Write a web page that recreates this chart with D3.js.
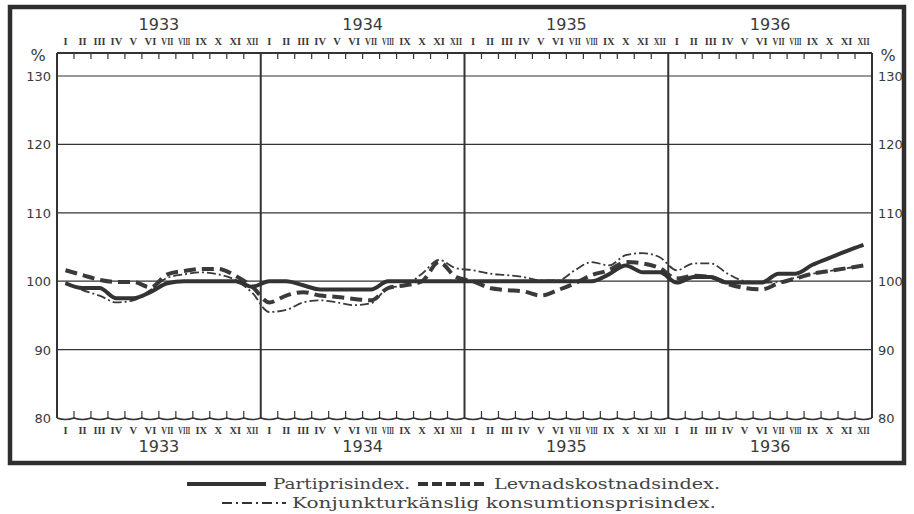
<!DOCTYPE html>
<html>
<head>
<meta charset="utf-8">
<script src="https://cdn.jsdelivr.net/npm/d3@7"></script>
<style>
  body { margin: 0; background: #fff; }
  svg { display: block; }
</style>
</head>
<body>
<div id="chart"></div>
<script>
// data, one value per month 1933-1936
const years = ['1933', '1934', '1935', '1936'];
const months = ['I','II','III','IV','V','VI','VII','VIII','IX','X','XI','XII'];
const yTicks = [80, 90, 100, 110, 120, 130];

const partipris = [
  99.7, 99.0, 99.0, 97.5, 97.5, 98.4, 99.7, 100, 100, 100, 100, 99.2,
  100, 100, 99.4, 98.8, 98.8, 98.8, 98.8, 100, 100, 100, 100, 100,
  100, 100, 100, 100, 100, 100, 100, 100, 101.0, 102.3, 101.3, 101.3,
  99.8, 100.6, 100.6, 99.8, 99.8, 99.8, 101.1, 101.1, 102.4, 103.4, 104.4, 105.3
];
const levnad = [
  101.6, 100.9, 100.2, 99.9, 99.9, 99.1, 101.0, 101.5, 101.8, 101.8, 100.8, 99.2,
  96.9, 97.9, 98.4, 97.9, 97.7, 97.4, 97.2, 99.0, 99.4, 100.0, 102.8, 100.6,
  100.0, 99.0, 98.7, 98.5, 97.9, 98.7, 99.7, 100.9, 101.6, 102.8, 102.6, 101.9,
  100.4, 100.8, 100.6, 99.6, 99.0, 98.8, 99.7, 100.4, 101.1, 101.5, 101.9, 102.3
];
const konjunktur = [
  99.8, 98.7, 97.9, 96.9, 97.2, 98.7, 100.5, 101.0, 101.3, 101.0, 100.2, 98.3,
  95.5, 95.8, 96.9, 97.2, 96.9, 96.5, 96.8, 99.0, 99.4, 101.1, 103.1, 101.9,
  101.6, 101.1, 100.9, 100.6, 100.1, 100.1, 101.6, 102.8, 102.3, 103.8, 104.1, 103.5,
  101.6, 102.6, 102.6, 101.1, 100.0, 99.8, 99.9, 100.5, 101.1, 101.5, 101.9, 102.2
];

const W = 914, H = 514;
const ink = '#333';
const plotLeft = 57, plotRight = 872, plotTop = 53, plotBottom = 418;

const svg = d3.select('#chart').append('svg')
  .attr('width', W).attr('height', H)
  .style('background', '#fff');

const x = d3.scaleLinear().domain([0, 48]).range([plotLeft, plotRight]);
const y = d3.scaleLinear().domain([80, 130]).range([plotBottom, 76]);

// outer frame
svg.append('rect')
  .attr('x', 10).attr('y', 7).attr('width', 894).attr('height', 456)
  .attr('fill', 'none').attr('stroke', '#2e2e2e').attr('stroke-width', 4.5);

// horizontal grid
svg.append('g').selectAll('line')
  .data(yTicks.filter(d => d > 80))
  .enter().append('line')
  .attr('x1', plotLeft).attr('x2', plotRight)
  .attr('y1', d => y(d)).attr('y2', d => y(d))
  .attr('stroke', ink).attr('stroke-width', 1.2);

// top border
svg.append('line')
  .attr('x1', plotLeft).attr('x2', plotRight).attr('y1', plotTop).attr('y2', plotTop)
  .attr('stroke', ink).attr('stroke-width', 2);

// wavy bottom border with month ticks
let wave = `M${plotLeft},${plotBottom}`;
d3.range(48).forEach(i => {
  const x0 = x(i), x1 = x(i + 1);
  wave += ` Q${(x0 + x1) / 2},${plotBottom + 3} ${x1},${plotBottom}`;
});
svg.append('path').attr('d', wave)
  .attr('fill', 'none').attr('stroke', ink).attr('stroke-width', 1.5);

const monthTicks = d3.range(1, 48).filter(i => i % 12 != 0);
svg.append('g').selectAll('line')
  .data(monthTicks)
  .enter().append('line')
  .attr('x1', d => x(d)).attr('x2', d => x(d))
  .attr('y1', plotBottom).attr('y2', plotBottom - 7)
  .attr('stroke', ink).attr('stroke-width', 1.2);
svg.append('g').selectAll('line')
  .data(monthTicks)
  .enter().append('line')
  .attr('x1', d => x(d)).attr('x2', d => x(d))
  .attr('y1', plotTop).attr('y2', plotTop + 6)
  .attr('stroke', ink).attr('stroke-width', 1.2);

// year dividers and side borders
svg.append('g').selectAll('line')
  .data([0, 12, 24, 36, 48])
  .enter().append('line')
  .attr('x1', d => x(d)).attr('x2', d => x(d))
  .attr('y1', plotTop).attr('y2', plotBottom)
  .attr('stroke', ink).attr('stroke-width', 2);

// y labels both sides
const yl = svg.append('g')
  .style('font-family', '"DejaVu Sans", sans-serif')
  .style('font-size', '13px').attr('fill', '#3a3a3a');
yTicks.forEach(v => {
  yl.append('text').attr('x', plotLeft - 6).attr('y', y(v) + 5)
    .attr('text-anchor', 'end').text(v);
  yl.append('text').attr('x', plotRight + 6).attr('y', y(v) + 5)
    .attr('text-anchor', 'start').text(v);
});
yl.append('text').attr('x', 38).attr('y', 61).attr('text-anchor', 'middle')
  .style('font-size', '16px').text('%');
yl.append('text').attr('x', 888).attr('y', 61).attr('text-anchor', 'middle')
  .style('font-size', '16px').text('%');

// month and year labels, top and bottom (long numerals squeezed sideways)
const ml = svg.append('g')
  .style('font-family', '"Liberation Serif", serif')
  .style('font-weight', 'bold')
  .style('font-size', '10.5px').attr('fill', '#3a3a3a');
[45, 434].forEach(yy => {
  d3.range(48).forEach(i => {
    const m = months[i % 12];
    const t = ml.append('text')
      .attr('x', 0).attr('y', 0)
      .attr('text-anchor', 'middle').text(m);
    const len = t.node().getComputedTextLength();
    const k = len > 12 ? 12 / len : 1;
    t.attr('transform', `translate(${x(i + 0.5)},${yy}) scale(${k},1)`);
  });
});
const yrs = svg.append('g')
  .style('font-family', '"DejaVu Sans", sans-serif')
  .style('font-size', '16px').attr('fill', '#3a3a3a');
years.forEach((yr, k) => {
  yrs.append('text').attr('x', x(k * 12 + 6)).attr('y', 30)
    .attr('text-anchor', 'middle').text(yr);
  yrs.append('text').attr('x', x(k * 12 + 6)).attr('y', 452)
    .attr('text-anchor', 'middle').text(yr);
});

// series lines
const line = d3.line()
  .x((d, i) => x(i + 0.5))
  .y(d => y(d))
  .curve(d3.curveMonotoneX);

svg.append('path').datum(konjunktur).attr('d', line)
  .attr('fill', 'none').attr('stroke', '#3a3a3a').attr('stroke-width', 1.8)
  .attr('stroke-dasharray', '9,3,2,3');
svg.append('path').datum(levnad).attr('d', line)
  .attr('fill', 'none').attr('stroke', '#3a3a3a').attr('stroke-width', 4)
  .attr('stroke-dasharray', '12,6');
svg.append('path').datum(partipris).attr('d', line)
  .attr('fill', 'none').attr('stroke', '#333').attr('stroke-width', 4);

// legend
const lg = svg.append('g')
  .style('font-family', '"DejaVu Serif", serif')
  .style('font-size', '14px').attr('fill', '#444');
lg.append('line').attr('x1', 187).attr('x2', 266).attr('y1', 484).attr('y2', 484)
  .attr('stroke', '#333').attr('stroke-width', 4);
lg.append('text').attr('x', 273).attr('y', 489).text('Partiprisindex.')
  .attr('textLength', 137).attr('lengthAdjust', 'spacingAndGlyphs');
lg.append('line').attr('x1', 418).attr('x2', 486).attr('y1', 484).attr('y2', 484)
  .attr('stroke', '#333').attr('stroke-width', 4).attr('stroke-dasharray', '10,4');
lg.append('text').attr('x', 494).attr('y', 489).text('Levnadskostnadsindex.')
  .attr('textLength', 226).attr('lengthAdjust', 'spacingAndGlyphs');
lg.append('line').attr('x1', 222).attr('x2', 286).attr('y1', 503).attr('y2', 503)
  .attr('stroke', '#333').attr('stroke-width', 1.8).attr('stroke-dasharray', '10,4,2,4');
lg.append('text').attr('x', 292).attr('y', 508).text('Konjunkturkänslig konsumtionsprisindex.')
  .attr('textLength', 424).attr('lengthAdjust', 'spacingAndGlyphs');
</script>
</body>
</html>
